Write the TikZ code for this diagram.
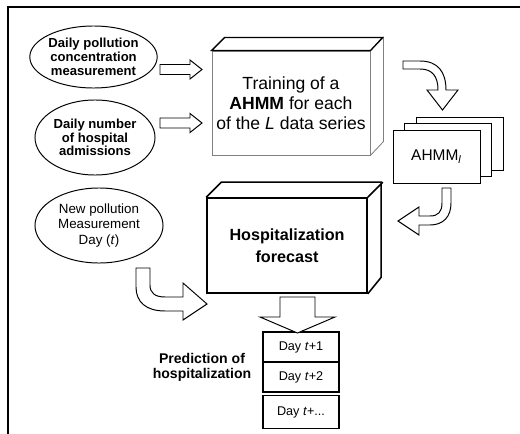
\documentclass[tikz,border=0pt]{standalone}
\usepackage{fontspec}
\setmainfont{Liberation Sans}
\usetikzlibrary{shapes.geometric,positioning}
\tikzset{
  blob/.style={draw,ellipse,inner sep=0pt,align=center,line width=0.7pt},
  fat/.style={draw,fill=white,line width=0.7pt,line join=miter},
  card/.style={draw,fill=white,minimum width=2.175cm,minimum height=1.325cm,line width=0.7pt},
  daybox/.style={draw,fill=white,minimum width=1.9cm,minimum height=0.75cm,inner sep=0pt,line width=0.8pt,font=\fontsize{9}{10}\selectfont},
}
\begin{document}
\begin{tikzpicture}[x=0.025cm,y=-0.025cm]
  \clip (0,0) rectangle (520,434);
  \draw[line width=1pt] (8,7) rectangle (560,470);

  % data series
  \node[blob,minimum width=3.075cm,minimum height=1.55cm,font=\bfseries\fontsize{9.3}{9.8}\selectfont] (conc) at (93.5,57) {Daily pollution\\concentration\\measurement};
  \node[blob,minimum width=3cm,minimum height=1.875cm,font=\bfseries\fontsize{9.3}{9.8}\selectfont] (adm) at (95,137.5) {Daily number\\of hospital\\admissions};
  \node[blob,minimum width=3.2cm,minimum height=1.875cm,font=\fontsize{9.5}{11}\selectfont] (newm) at (99,225.5) {New pollution\\Measurement\\Day (\textit{t})};

  % training
  \node[draw=gray,line width=0.6pt,fill=white,minimum width=3.95cm,minimum height=2.6cm,inner sep=0pt,align=center,font=\fontsize{12.5}{14.2}\selectfont] (train) at (291,103) {Training of a\\\textbf{AHMM} for each\\of the \textit{L} data series};
  \draw[gray,line width=0.6pt] (train.north east) -- ++(13,-13) -- ++(0,104) -- (train.south east);
  \draw[line width=0.9pt] (train.north west) -- ++(13,-13) -- ++(158,0) -- (train.north east) -- cycle;

  % models
  \node[card] (m3) at (459.5,144) {};
  \node[card] (m2) at (448,149.5) {};
  \node[card,font=\fontsize{11}{13}\selectfont] (model) at (436.5,156.5) {AHMM\textsubscript{\textit{l}}};

  % forecast
  \node[draw,line width=1.1pt,fill=white,minimum width=4cm,minimum height=2.375cm,align=center,font=\bfseries\fontsize{11.5}{16}\selectfont] (fcast) at (287,245.5) {Hospitalization\\forecast};
  \draw[line width=1.1pt,line join=miter] (fcast.north west) -- ++(15,-15) -- ++(160,0) -- ++(0,95) -- (fcast.south east)
    (fcast.north east) -- ++(15,-15);

  % prediction
  \node[daybox] (d1) at (301,347) {Day \textit{t}+1};
  \node[daybox,below=-0.8pt of d1] (d2) {Day \textit{t}+2};
  \node[daybox,below=0.05cm of d2,minimum height=0.825cm,line width=1.3pt] (d3) {Day \textit{t}+...};
  \node[align=center,font=\bfseries\fontsize{10}{10.8}\selectfont] (pred) at (202,367) {Prediction of\\hospitalization};

  % block arrows
  \coordinate (a1) at (160,69.5);
  \coordinate (a2) at (160,123);
  \coordinate (a3) at (297.5,297);
  \draw[fat] (a1) ++(0,-5) -- ++(30,0) -- ++(0,-4.5) -- ++(12,9.5) -- ++(-12,9.5) -- ++(0,-4.5) -- ++(-30,0) -- cycle;
  \draw[fat] (a2) ++(0,-5) -- ++(30,0) -- ++(0,-4.5) -- ++(12,9.5) -- ++(-12,9.5) -- ++(0,-4.5) -- ++(-30,0) -- cycle;
  \draw[fat] (a3) ++(-17.5,0) -- ++(35,0) -- ++(0,20) -- ++(20,0) -- ++(-37.5,16) -- ++(-37.5,-16) -- ++(20,0) -- cycle;

  \draw[fat] (403,61) -- (420,61) .. controls (438,61) and (446,72) .. (446,90) -- (458,90) -- (442.5,110) -- (427,90) -- (438,90)
    .. controls (438,76) and (432,69) .. (420,69) -- (403,69) -- cycle;
  \draw[fat] (442,188) -- (451,188) -- (451,203) .. controls (451,217) and (443,225) .. (430,225) -- (419,225) -- (419,235) -- (398,221)
    -- (419,207) -- (419,216) -- (430,216) .. controls (438,216) and (442,212) .. (442,203) -- cycle;
  \draw[fat] (136,268) -- (150,268) -- (150,285) .. controls (150,293) and (155,297) .. (165,297) -- (183,297) -- (183,283) -- (207,304)
    -- (183,320) -- (183,311) -- (165,311) .. controls (146,311) and (136,302) .. (136,287) -- cycle;
\end{tikzpicture}
\end{document}
